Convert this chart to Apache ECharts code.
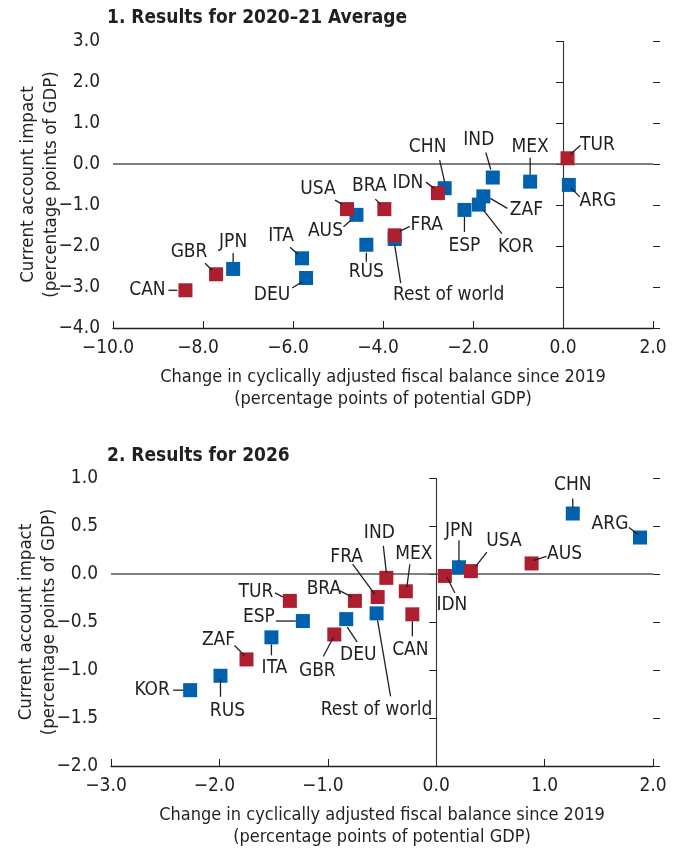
<!DOCTYPE html>
<html>
<head>
<meta charset="utf-8">
<script src="https://cdn.jsdelivr.net/npm/echarts@6/dist/echarts.min.js"></script>
<style>
html,body{margin:0;padding:0;background:#fff;}
#chart{width:678px;height:848px;}
</style>
</head>
<body>
<div id="chart"></div>
<script>
// ---------- Data ----------
// Panel 1: Results for 2020–21 Average
const p1Countries = ['CAN','GBR','JPN','ITA','DEU','USA','AUS','BRA','RUS','Rest of world','FRA','IDN','CHN','ESP','KOR','ZAF','IND','MEX','TUR','ARG'];
const p1X = [-8.39,-7.71,-7.33,-5.80,-5.71,-4.80,-4.59,-3.97,-4.37,-3.74,-3.74,-2.78,-2.63,-2.19,-1.87,-1.77,-1.56,-0.73,0.10,0.13];
const p1Y = [-3.08,-2.69,-2.56,-2.30,-2.78,-1.10,-1.24,-1.10,-1.97,-1.83,-1.74,-0.71,-0.59,-1.12,-0.99,-0.79,-0.33,-0.43,0.14,-0.51];
const p1Group = ['r','r','b','b','b','r','b','r','b','b','r','r','b','b','b','b','b','b','r','b'];

// Panel 2: Results for 2026
const p2Countries = ['KOR','RUS','ZAF','ITA','ESP','TUR','GBR','DEU','BRA','Rest of world','FRA','IND','MEX','CAN','IDN','JPN','USA','AUS','CHN','ARG'];
const p2X = [-2.27,-1.99,-1.75,-1.52,-1.23,-1.35,-0.94,-0.83,-0.75,-0.55,-0.54,-0.46,-0.28,-0.22,0.08,0.21,0.32,0.88,1.26,1.88];
const p2Y = [-1.21,-1.06,-0.89,-0.66,-0.49,-0.28,-0.63,-0.47,-0.28,-0.41,-0.24,-0.04,-0.18,-0.42,-0.02,0.07,0.03,0.11,0.63,0.38];
const p2Group = ['b','b','r','b','b','r','r','b','r','b','r','r','r','r','r','b','r','r','b','b'];

// Axis ticks
const p1XTicks = {min:-10, max:2, interval:2};
const p1YTicks = {min:-4, max:3, interval:1};
const p2XTicks = {min:-3, max:2, interval:1};
const p2YTicks = {min:-2, max:1, interval:0.5};

const titles = ['1. Results for 2020–21 Average', '2. Results for 2026'];
const xName = 'Change in cyclically adjusted fiscal balance since 2019\n(percentage points of potential GDP)';
const yName = 'Current account impact\n(percentage points of GDP)';

// ---------- Label layout (pixel offsets relative to each point) ----------
// [labelDx, labelDy, lineX1, lineY1, lineX2, lineY2]
const p1LabelLayout = {
  'CAN':[-38,0,-17,0,-8,0],
  'GBR':[-27,-22,-11,-11,-4,-4],
  'JPN':[0,-27,0,-16,0,-7],
  'ITA':[-21,-22,-12,-11,-4,-4],
  'DEU':[-34,17,-14,10,-4,4],
  'USA':[-29,-20,-12,-9,-5,-5],
  'AUS':[-31,16,-13,12,-6,6],
  'BRA':[-15,-23,-9,-10,-4,-5],
  'RUS':[0,27,0,8,0,17],
  'Rest of world':[54,56,0,6,6,44],
  'FRA':[32,-10,5,-4,15,-9],
  'IDN':[-30,-10,-12,-11,-4,-5],
  'CHN':[-17,-41,-5,-28,0,-6],
  'ESP':[0,36,0,7,0,22],
  'KOR':[37,42,5,6,23,29],
  'ZAF':[43,14,7,2,24,12],
  'IND':[-14,-37,-7,-25,-2,-8],
  'MEX':[0,-35,0,-24,0,-7],
  'TUR':[30,-13,3,-4,13,-13],
  'ARG':[29,16,2,3,11,12]
};
const p2LabelLayout = {
  'CHN':[0,-28,0,-15,0,-6],
  'ARG':[-30,-13,-11,-10,-2,-3],
  'AUS':[33,-9,2,-3,15,-7],
  'USA':[33,-30,5,-5,16,-19],
  'JPN':[0,-36,0,-27,0,-6],
  'IDN':[7,29,2,1,10,17],
  'CAN':[-2,36,0,7,0,22],
  'MEX':[8,-37,4,-27,1,-4],
  'IND':[-7,-45,-3,-32,0,-5],
  'FRA':[-31,-40,-25,-33,-3,-3],
  'BRA':[-31,-12,-15,-10,-3,-4],
  'DEU':[12,36,1,8,11,23],
  'Rest of world':[0,97,1,7,14,83],
  'GBR':[-17,37,-1,3,-11,22],
  'TUR':[-34,-9,-15,-8,-7,-4],
  'ESP':[-44,-4,-27,0,-7,0],
  'ITA':[3,31,0,7,0,18],
  'ZAF':[-28,-19,-12,-14,-2,-4],
  'RUS':[7,35,0,3,0,21],
  'KOR':[-38,0,-17,0,-7,0]
};

// ---------- Styles ----------
const FONT = "'Liberation Sans Narrow','Arial Narrow','DejaVu Sans Condensed',sans-serif";
const TXT = '#231f20';
const RED = '#ad1e2f';
const BLUE = '#0061ae';
const fmt = v => (v < 0 ? '\u2212' : '') + Math.abs(v).toFixed(1);
// x labels: negative numbers hang the minus sign to the left of the tick
const fmtX = v => v < 0 ? '{n|' + fmt(v) + '}' : fmt(v);

function xAxisFor(grid, t){
  return {
    type:'value', gridIndex:grid, min:t.min, max:t.max, interval:t.interval,
    position:'bottom',
    axisLine:{show:true, onZero:false, lineStyle:{color:TXT, width:1.3}},
    axisTick:{show:true, inside:true, length:7, lineStyle:{color:TXT, width:1}},
    axisLabel:{formatter:fmtX, fontFamily:FONT, fontSize:19, color:TXT, margin:11,
      rich:{n:{fontFamily:FONT, fontSize:19, color:TXT, padding:[0,10,0,0]}}},
    splitLine:{show:false},
    name:xName, nameLocation:'middle', nameGap:38, nameMoveOverlap:false,
    nameTextStyle:{fontFamily:FONT, fontSize:18, color:TXT, lineHeight:22}
  };
}
function yAxesFor(grid, t){
  return [{
    type:'value', gridIndex:grid, min:t.min, max:t.max, interval:t.interval,
    position:'left',
    axisLine:{show:false},
    axisTick:{show:true, length:7, lineStyle:{color:TXT, width:1}},
    axisLabel:{formatter:fmt, fontFamily:FONT, fontSize:19, color:TXT, margin:13},
    splitLine:{show:false},
    name:yName, nameLocation:'middle', nameGap:50, nameRotate:90, nameMoveOverlap:false,
    nameTextStyle:{fontFamily:FONT, fontSize:18.5, color:TXT, lineHeight:23}
  },{
    type:'value', gridIndex:grid, min:t.min, max:t.max, interval:t.interval,
    position:'right',
    axisLine:{show:false},
    axisTick:{show:true, length:7, lineStyle:{color:TXT, width:1}},
    axisLabel:{show:false},
    splitLine:{show:false}
  }];
}

function pointsFor(names, xs, ys, groups, g){
  const out = [];
  names.forEach((n,i)=>{ if(groups[i]===g) out.push({name:n, value:[xs[i], ys[i]]}); });
  return out;
}

function scatterSeries(names, xs, ys, groups, g, color, xi, yi, withZero){
  const s = {
    type:'scatter', xAxisIndex:xi, yAxisIndex:yi,
    symbol:'rect', symbolSize:14,
    itemStyle:{color:color, opacity:1},
    data:pointsFor(names, xs, ys, groups, g),
    z:5, silent:true
  };
  if(withZero){
    s.markLine = {
      silent:true, symbol:['none','none'], label:{show:false},
      animation:false,
      data:[
        {yAxis:0, lineStyle:{color:'#555', width:1.6, type:'solid'}},
        {xAxis:0, lineStyle:{color:'#333', width:1.1, type:'solid'}}
      ],
      z:1
    };
  }
  return s;
}

function labelSeries(names, xs, ys, layout, xi, yi){
  return {
    type:'custom', xAxisIndex:xi, yAxisIndex:yi, z:6, silent:true,
    data:names.map((n,i)=>[xs[i], ys[i], i]),
    renderItem:function(params, api){
      const i = api.value(2);
      const name = names[i];
      const L = layout[name];
      const p = api.coord([api.value(0), api.value(1)]);
      return {type:'group', children:[
        {type:'text',
         style:{text:name, x:p[0]+L[0], y:p[1]+L[1], align:'center', verticalAlign:'middle',
                font:'19px ' + FONT, fill:TXT}},
        {type:'line',
         shape:{x1:p[0]+L[2], y1:p[1]+L[3], x2:p[0]+L[4], y2:p[1]+L[5]},
         style:{stroke:TXT, lineWidth:1.3}}
      ]};
    }
  };
}

const chart = echarts.init(document.getElementById('chart'), null, {renderer:'canvas'});
const ya1 = yAxesFor(0, p1YTicks), ya2 = yAxesFor(1, p2YTicks);
chart.setOption({
  animation:false,
  backgroundColor:'#fff',
  title:[
    {text:titles[0], left:102, top:4, textStyle:{fontFamily:FONT, fontSize:19, fontWeight:'bold', color:TXT}},
    {text:titles[1], left:102, top:442, textStyle:{fontFamily:FONT, fontSize:19, fontWeight:'bold', color:TXT}}
  ],
  grid:[
    {left:113, top:41, width:540, height:287, containLabel:false, outerBoundsMode:'none'},
    {left:111, top:478, width:542, height:288, containLabel:false, outerBoundsMode:'none'}
  ],
  xAxis:[xAxisFor(0, p1XTicks), xAxisFor(1, p2XTicks)],
  yAxis:[ya1[0], ya1[1], ya2[0], ya2[1]],
  series:[
    scatterSeries(p1Countries, p1X, p1Y, p1Group, 'b', BLUE, 0, 0, true),
    scatterSeries(p1Countries, p1X, p1Y, p1Group, 'r', RED, 0, 0, false),
    labelSeries(p1Countries, p1X, p1Y, p1LabelLayout, 0, 0),
    scatterSeries(p2Countries, p2X, p2Y, p2Group, 'b', BLUE, 1, 2, true),
    scatterSeries(p2Countries, p2X, p2Y, p2Group, 'r', RED, 1, 2, false),
    labelSeries(p2Countries, p2X, p2Y, p2LabelLayout, 1, 2)
  ]
});
</script>
</body>
</html>
